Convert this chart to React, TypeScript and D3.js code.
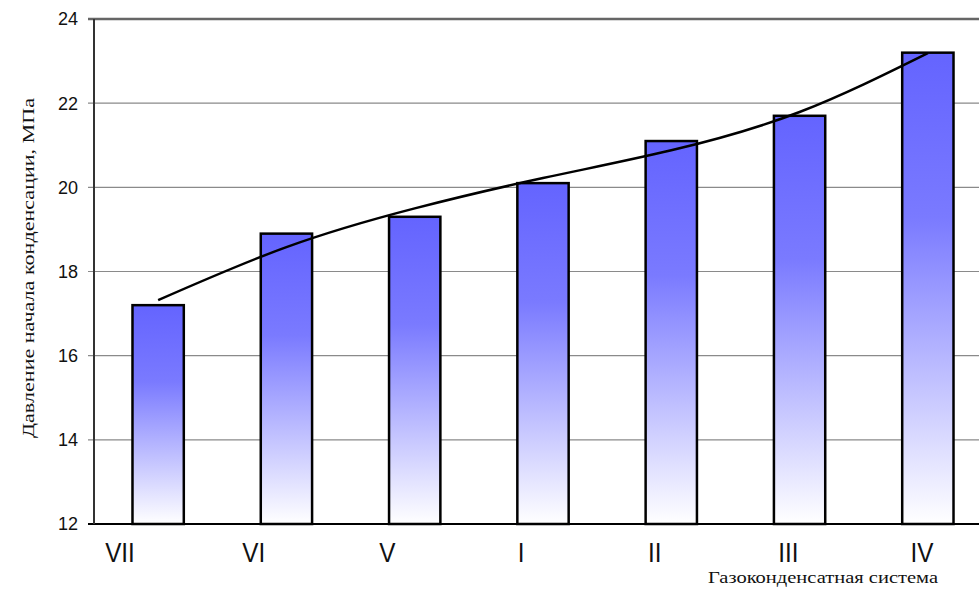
import React from "react";
import * as d3 from "d3";

const categories = ["VII", "VI", "V", "I", "II", "III", "IV"];
const values = [17.2, 18.9, 19.3, 20.1, 21.1, 21.7, 23.2];
const trend = [17.32, 18.58, 19.5, 20.22, 20.88, 21.79, 23.19];
const yTicks = [12, 14, 16, 18, 20, 22, 24];

const W = 979;
const H = 589;
const left = 94;
const right = 992;
const top = 19;
const bottom = 524;

export default function App() {
  const x = d3.scaleBand<string>().domain(categories).range([left, right]).paddingInner(0.6).paddingOuter(0.3);
  const xLabel = d3.scalePoint<string>().domain(categories).range([120, 922]);
  const y = d3.scaleLinear().domain([12, 24]).range([bottom, top]);
  const line = d3
    .line<number>()
    .x((_, i) => (x(categories[i]) as number) + x.bandwidth() / 2)
    .y((d) => y(d))
    .curve(d3.curveNatural);

  return (
    <svg width={W} height={H} style={{ display: "block", position: "absolute", left: 0, top: 0, background: "#fff" }}>
      <defs>
        <linearGradient id="barGrad" x1="0" y1="0" x2="0" y2="1">
          <stop offset="0" stopColor="#6464ff" />
          <stop offset="0.35" stopColor="#7a7aff" />
          <stop offset="1" stopColor="#ffffff" />
        </linearGradient>
      </defs>
      {yTicks.map((t) => (
        <g key={t}>
          <line
            x1={left - 6}
            x2={W}
            y1={y(t)}
            y2={y(t)}
            stroke={t === 24 ? "#666" : t === 12 ? "#000" : "#8a8a8a"}
            strokeWidth={t === 24 ? 2.5 : t === 12 ? 2 : 1.2}
          />
          <text
            x={left - 16}
            y={y(t)}
            dy="0.36em"
            textAnchor="end"
            fontFamily="Liberation Sans, Arial, sans-serif"
            fontSize={18}
            fill="#111"
          >
            {t}
          </text>
        </g>
      ))}
      <line x1={left} x2={left} y1={top} y2={bottom} stroke="#333" strokeWidth={2} />
      {categories.map((c, i) => (
        <g key={c}>
          <rect
            x={x(c)}
            y={y(values[i])}
            width={x.bandwidth()}
            height={bottom - y(values[i])}
            fill="url(#barGrad)"
            stroke="#000"
            strokeWidth={2.5}
          />
          <text
            transform={`translate(${xLabel(c)}, 562) scale(0.9, 1)`}
            textAnchor="middle"
            fontFamily="Liberation Sans, Arial, sans-serif"
            fontSize={27}
            fill="#111"
          >
            {c}
          </text>
        </g>
      ))}
      <path d={line(trend) || ""} fill="none" stroke="#000" strokeWidth={2.5} />
      <text
        x={823}
        y={583}
        textAnchor="middle"
        fontFamily="Liberation Serif, Times New Roman, serif"
        fontSize={17}
        textLength={230}
        lengthAdjust="spacingAndGlyphs"
        fill="#111"
      >
        Газоконденсатная система
      </text>
      <text
        transform={`translate(34, 268) rotate(-90)`}
        textAnchor="middle"
        fontFamily="Liberation Serif, Times New Roman, serif"
        fontSize={17}
        textLength={340}
        lengthAdjust="spacingAndGlyphs"
        fill="#111"
      >
        Давление начала конденсации, МПа
      </text>
    </svg>
  );
}
